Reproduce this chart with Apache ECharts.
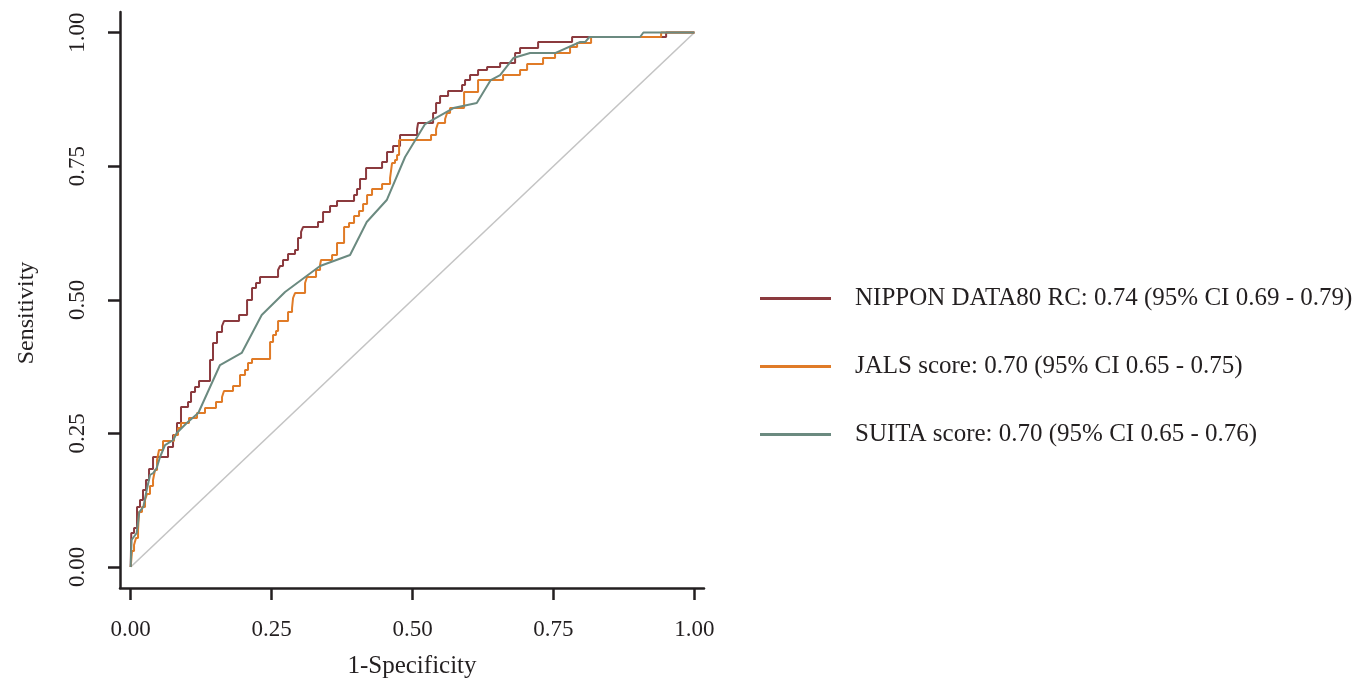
<!DOCTYPE html>
<html>
<head>
<meta charset="utf-8">
<script src="https://cdn.jsdelivr.net/npm/echarts@6/dist/echarts.min.js"></script>
<style>html,body{margin:0;padding:0;background:#fff;overflow:hidden}#c{width:1356px;height:681px}</style>
</head>
<body>
<div id="c"></div>
<script>
// Tick labels
const tickValues = [0, 0.25, 0.5, 0.75, 1];
const seriesNames = [
  'NIPPON DATA80 RC: 0.74 (95% CI 0.69 - 0.79)',
  'JALS score: 0.70 (95% CI 0.65 - 0.75)',
  'SUITA score: 0.70 (95% CI 0.65 - 0.76)'
];
// NIPPON DATA80 RC: step curve (1-specificity where sensitivity rises, new sensitivity)
const nipponFpr = [0,0.001,0.0059,0.0112,0.0165,0.0218,0.0271,0.0325,0.0396,0.0662,0.0751,0.0821,0.0892,0.1017,0.1070,0.1141,0.1212,0.1407,0.1460,0.1531,0.1620,0.1655,0.1922,0.2064,0.2152,0.2223,0.2294,0.2614,0.2649,0.2702,0.2791,0.2915,0.2968,0.3022,0.3057,0.3323,0.3412,0.3536,0.3660,0.3962,0.4015,0.4068,0.4175,0.4459,0.4547,0.4654,0.4778,0.5080,0.5098,0.5364,0.5417,0.5488,0.5630,0.5878,0.5931,0.6020,0.6162,0.6322,0.6553,0.6819,0.6907,0.7227,0.7830,0.9498,1.0];
const nipponTpr = [0,0.0636,0.0730,0.1123,0.1254,0.1441,0.1628,0.1833,0.2058,0.2245,0.2470,0.2694,0.2993,0.3087,0.3274,0.3368,0.3480,0.3873,0.4191,0.4397,0.4509,0.4602,0.4715,0.4995,0.5220,0.5313,0.5426,0.5557,0.5631,0.5744,0.5856,0.5931,0.6155,0.6268,0.6361,0.6455,0.6642,0.6754,0.6848,0.6960,0.7072,0.7259,0.7465,0.7577,0.7764,0.7876,0.8082,0.8195,0.8307,0.8494,0.8681,0.8812,0.8905,0.9018,0.9111,0.9205,0.9298,0.9355,0.9429,0.9616,0.9710,0.9822,0.9916,1.0,1.0];
// JALS score: step curve
const jalsFpr = [0,0.0023,0.0059,0.0094,0.0130,0.0147,0.0200,0.0254,0.0289,0.0342,0.0396,0.0431,0.0467,0.0502,0.0573,0.0768,0.0839,0.0892,0.1034,0.1176,0.1318,0.1513,0.1620,0.1655,0.1815,0.1939,0.2028,0.2081,0.2152,0.2472,0.2525,0.2578,0.2614,0.2791,0.2862,0.2880,0.2915,0.3093,0.3128,0.3288,0.3359,0.3376,0.3572,0.3660,0.3785,0.3873,0.3962,0.4051,0.4122,0.4193,0.4281,0.4459,0.4601,0.4636,0.4689,0.4725,0.4761,0.5328,0.5417,0.5452,0.5577,0.5612,0.5665,0.5914,0.6162,0.6606,0.6907,0.7032,0.7315,0.7528,0.7794,0.7919,0.8167,0.9409,1.0];
const jalsTpr = [0,0.0299,0.0412,0.0543,0.0692,0.1029,0.1123,0.1254,0.1366,0.1515,0.1628,0.1815,0.2002,0.2189,0.2357,0.2470,0.2601,0.2694,0.2788,0.2881,0.2975,0.3087,0.3181,0.3293,0.3386,0.3592,0.3686,0.3817,0.3891,0.4210,0.4340,0.4415,0.4602,0.4771,0.4846,0.5033,0.5126,0.5313,0.5426,0.5557,0.5650,0.5744,0.5837,0.6062,0.6361,0.6436,0.6567,0.6660,0.6791,0.6960,0.7072,0.7166,0.7278,0.7558,0.7615,0.7708,0.7989,0.8082,0.8195,0.8307,0.8382,0.8494,0.8587,0.8887,0.9111,0.9205,0.9298,0.9411,0.9523,0.9616,0.9729,0.9803,0.9916,1.0,1.0];
// SUITA score: polyline
const suitaFpr = [0,0.0014,0.0106,0.0153,0.0224,0.0284,0.0342,0.0401,0.0461,0.0520,0.0609,0.0756,0.0816,0.0994,0.1199,0.1584,0.1969,0.2324,0.2738,0.3359,0.3891,0.4187,0.4542,0.4867,0.5222,0.5724,0.6139,0.6387,0.6553,0.6788,0.7085,0.7528,0.7972,0.8061,0.8137,0.9036,0.9095,1.0];
const suitaTpr = [0,0.0505,0.0636,0.1029,0.1123,0.1441,0.1721,0.1759,0.1852,0.2058,0.2282,0.2376,0.2507,0.2694,0.2881,0.3779,0.4004,0.4715,0.5145,0.5631,0.5837,0.6455,0.6866,0.7671,0.8288,0.8587,0.8681,0.9111,0.9205,0.9523,0.9616,0.9616,0.9822,0.9822,0.9916,0.9916,1.0,1.0];
const diagX = [0, 1];
const diagY = [0, 1];

const colors = ['#8b3a3e', '#e07b27', '#6b8a80'];
const FONT = "'Liberation Serif','Times New Roman',serif";
const INK = '#231f20';
const zip = (a, b) => a.map((v, i) => [v, b[i]]);

const chart = echarts.init(document.getElementById('c'), null, {renderer: 'canvas'});
const axisCommon = {
  type: 'value',
  axisLine: {show: true, onZero: false, lineStyle: {color: INK, width: 2.5}},
  axisTick: {show: true, inside: false, length: 12, lineStyle: {color: INK, width: 2.5}, customValues: tickValues},
  axisLabel: {customValues: tickValues, formatter: v => v.toFixed(2), fontFamily: FONT, fontSize: 23, color: INK},
  splitLine: {show: false},
  nameLocation: 'middle'
};
chart.setOption({
  animation: false,
  backgroundColor: '#fff',
  color: colors,
  grid: {left: 120, right: 652, top: 12, bottom: 93, containLabel: false, outerBoundsMode: 'none'},
  xAxis: Object.assign({}, axisCommon, {
    min: -0.019, max: 1.017, name: '1-Specificity', nameGap: 66,
    nameTextStyle: {fontFamily: FONT, fontSize: 25, color: INK},
    axisLabel: Object.assign({}, axisCommon.axisLabel, {margin: 30})
  }),
  yAxis: Object.assign({}, axisCommon, {
    min: -0.0393, max: 1.0384, name: 'Sensitivity', nameGap: 81,
    nameTextStyle: {fontFamily: FONT, fontSize: 24, color: INK, padding: [0, 26, 0, 0]},
    axisLabel: Object.assign({}, axisCommon.axisLabel, {margin: 31, rotate: 90})
  }),
  legend: {
    orient: 'vertical', left: 755, top: 281, itemGap: 43,
    itemWidth: 71, itemHeight: 3, icon: 'rect',
    data: seriesNames,
    textStyle: {fontFamily: FONT, fontSize: 25, color: INK, padding: [0, 0, 0, 19]}
  },
  series: [
    {type: 'line', data: zip(diagX, diagY), showSymbol: false, silent: true,
     lineStyle: {color: '#c4c4c4', width: 1.6}, z: 1},
    {name: seriesNames[0], type: 'line', step: 'end', data: zip(nipponFpr, nipponTpr), showSymbol: false,
     lineStyle: {width: 2, color: colors[0]}, itemStyle: {color: colors[0]}, z: 2},
    {name: seriesNames[1], type: 'line', step: 'end', data: zip(jalsFpr, jalsTpr), showSymbol: false,
     lineStyle: {width: 2, color: colors[1]}, itemStyle: {color: colors[1]}, z: 3},
    {name: seriesNames[2], type: 'line', data: zip(suitaFpr, suitaTpr), showSymbol: false,
     lineStyle: {width: 2, color: colors[2]}, itemStyle: {color: colors[2]}, z: 4}
  ]
});
</script>
</body>
</html>
